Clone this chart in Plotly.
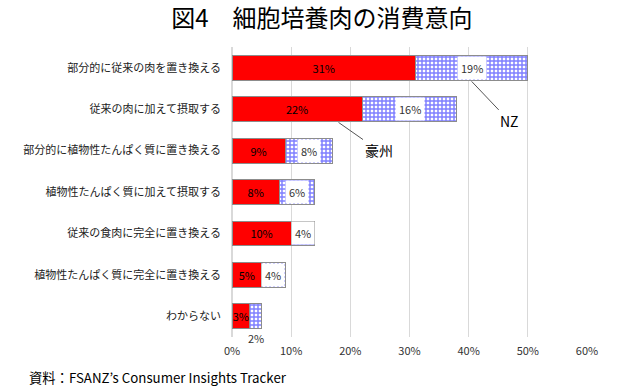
import plotly.graph_objects as go

categories = [
    "部分的に従来の肉を置き換える",
    "従来の肉に加えて摂取する",
    "部分的に植物性たんぱく質に置き換える",
    "植物性たんぱく質に加えて摂取する",
    "従来の食肉に完全に置き換える",
    "植物性たんぱく質に完全に置き換える",
    "わからない",
]
australia = [31, 22, 9, 8, 10, 5, 3]
nz = [19, 16, 8, 6, 4, 4, 2]
x_ticks = [0, 10, 20, 30, 40, 50, 60]
x_ticklabels = [f"{v}%" for v in x_ticks]

FONT = "Noto Sans CJK JP, Noto Sans, sans-serif"

fig = go.Figure()
fig.add_trace(go.Bar(
    y=categories, x=australia, orientation="h", name="豪州",
    marker=dict(color="#ff0000", line=dict(color="#8c8c8c", width=1)),
    width=0.6,
    text=[f"{v}%" for v in australia], textposition="inside",
    insidetextanchor="middle", textangle=0, constraintext="none",
    textfont=dict(color="#000000", size=11, family=FONT),
    cliponaxis=False,
))
fig.add_trace(go.Bar(
    y=categories, x=nz, orientation="h", name="NZ",
    marker=dict(color="#ffffff", line=dict(color="#8c8c8c", width=1),
                pattern=dict(shape="+", fgcolor="#0000ff", bgcolor="#ffffff",
                             size=4, solidity=0.6)),
    width=0.6,
))

annotations = []
for i, (a, n) in enumerate(zip(australia, nz)):
    if i == len(categories) - 1:
        annotations.append(dict(x=a + n / 2, y=i, text=f"{n}%", showarrow=False,
                                yshift=-22, font=dict(size=11, color="#333", family=FONT)))
    else:
        annotations.append(dict(x=a + n / 2, y=i, text=f"{n}%", showarrow=False,
                                bgcolor="#ffffff", borderpad=3,
                                font=dict(size=11, color="#333", family=FONT)))

# series callouts
annotations.append(dict(x=australia[0] + nz[0] / 2, y=0.33, text="NZ", showarrow=True,
                        arrowhead=0, arrowwidth=1, arrowcolor="#555", ax=38, ay=40,
                        font=dict(size=14, color="#000", family=FONT)))
annotations.append(dict(x=18, y=1.32, text="豪州", showarrow=True,
                        arrowhead=0, arrowwidth=1, arrowcolor="#555", ax=40, ay=28,
                        font=dict(size=14, color="#000", family=FONT)))
annotations.append(dict(xref="paper", yref="paper", x=-0.577, y=-0.141,
                        xanchor="left", yanchor="middle", showarrow=False,
                        text="資料：FSANZ’s Consumer Insights Tracker",
                        font=dict(size=13.3, color="#000", family=FONT)))

fig.update_layout(
    barmode="stack",
    width=640, height=392,
    margin=dict(l=232, r=53, t=47, b=55, autoexpand=False),
    paper_bgcolor="#ffffff", plot_bgcolor="#ffffff",
    showlegend=False,
    title=dict(text="図4　細胞培養肉の消費意向", x=0.503, xanchor="center",
               y=0.952, yanchor="middle", yref="container", automargin=False,
               font=dict(size=24, color="#000", family=FONT)),
    font=dict(family=FONT),
    annotations=annotations,
    xaxis=dict(range=[0, 60], tickvals=x_ticks, ticktext=x_ticklabels,
               showgrid=True, gridcolor="#d9d9d9", gridwidth=1,
               zeroline=True, zerolinecolor="#d9d9d9", showline=False,
               automargin=False,
               tickfont=dict(size=11, color="#333", family=FONT), ticklabelstandoff=6),
    yaxis=dict(range=[len(categories) - 0.5, -0.5], autorange=False,
               showgrid=False, showline=False, automargin=False,
               tickfont=dict(size=11, color="#222", family=FONT), ticklabelstandoff=10),
)

fig.write_html("out.html", config={"displayModeBar": False},
               post_script="document.body.style.margin='0';")
